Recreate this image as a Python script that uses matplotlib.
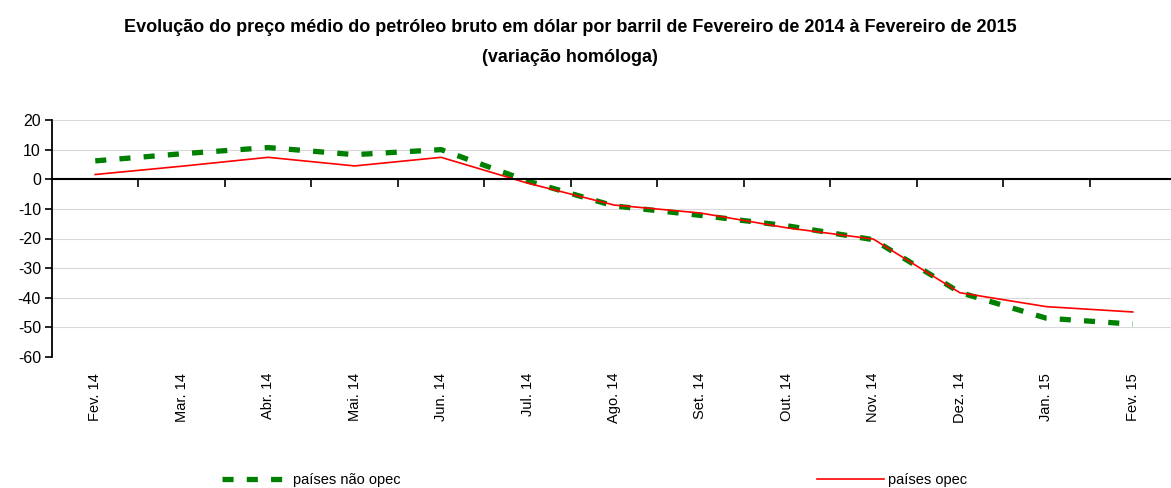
"""Evolução do preço médio do petróleo bruto (variação homóloga)."""
import numpy as np
import matplotlib
matplotlib.use("Agg")
import matplotlib.pyplot as plt  # noqa: E402

plt.rcParams["font.family"] = ["Liberation Sans", "DejaVu Sans"]
plt.rcParams["axes.unicode_minus"] = False

months = ["Fev. 14", "Mar. 14", "Abr. 14", "Mai. 14", "Jun. 14", "Jul. 14",
          "Ago. 14", "Set. 14", "Out. 14", "Nov. 14", "Dez. 14", "Jan. 15",
          "Fev. 15"]
nao_opec = [6.2, 8.6, 10.7, 8.3, 10.0, -0.6, -9.0, -12.2, -15.7, -20.4,
            -38.2, -46.9, -48.9]
opec = [1.6, 4.4, 7.4, 4.5, 7.4, -1.3, -8.7, -11.4, -16.4, -20.2,
        -38.3, -43.0, -44.8]

title = ("Evolução do preço médio do petróleo bruto em dólar por barril de "
         "Fevereiro de 2014 à Fevereiro de 2015\n(variação homóloga)")

W, H = 1171, 488
fig = plt.figure(figsize=(W / 100, H / 100), dpi=100)
ax = fig.add_axes([52 / W, 1 - 357 / H, (1176 - 52) / W, (357 - 120) / H])

x = np.arange(len(months))
l1, = ax.plot(x, nao_opec, color="#008000", lw=3.8,
              linestyle=(0, (2.1, 2.5)), label="países não opec")
l2, = ax.plot(x, opec, color="#ff0000", lw=1.2, label="países opec")

ax.set_xlim(-0.5, len(months) - 0.5)
ax.set_ylim(-60, 20)
ax.set_yticks(np.arange(-60, 21, 10))
ax.grid(axis="y", color="#d9d9d9", lw=0.8)
ax.set_axisbelow(True)
ax.tick_params(axis="y", labelsize=11.5, length=5, width=1.2, pad=3)

for s in ("top", "right"):
    ax.spines[s].set_visible(False)
ax.spines["left"].set_linewidth(1.3)
ax.spines["bottom"].set_position(("data", 0))
ax.spines["bottom"].set_linewidth(1.5)

# tick marks on the zero line sit between categories
ax.set_xticks(x[:-1] + 0.5)
ax.tick_params(axis="x", direction="out", length=6, width=1.2, labelbottom=False)

# category labels under the plot area
sec = ax.secondary_xaxis("bottom")
sec.set_xticks(x)
sec.set_xticklabels(months, rotation=90, fontsize=10.5)
sec.tick_params(length=0, pad=11.5)
sec.spines["bottom"].set_visible(False)

fig.text(0.487, 1 - 42 / H, title, ha="center", va="center",
         fontsize=13, fontweight="bold", linespacing=2.0)

fig.legend(handles=[l1, l2], loc="center left",
           bbox_to_anchor=(222 / W, 8 / H), ncol=2, frameon=False,
           fontsize=10.5, borderpad=0, borderaxespad=0, handlelength=4.6,
           handletextpad=0.3, columnspacing=28.5)

fig.savefig("out.png", dpi=100)
plt.close(fig)
